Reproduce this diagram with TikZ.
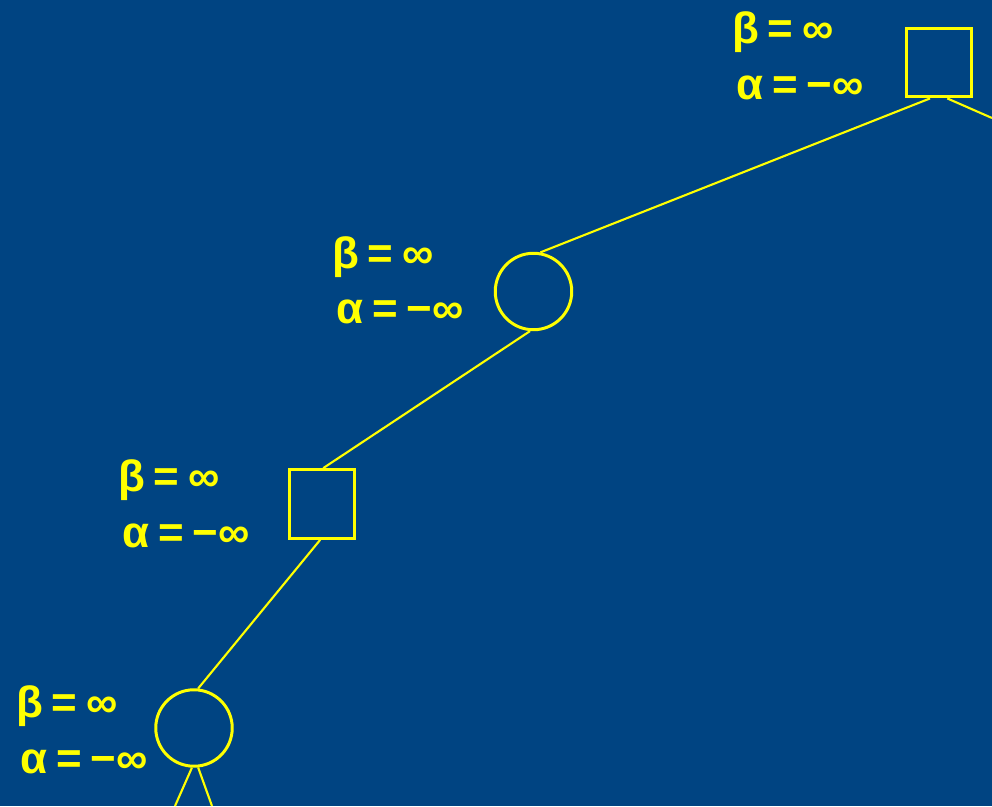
\documentclass[tikz,border=0pt]{standalone}
\usepackage{fontspec}
\setmainfont{Liberation Sans}
\usepackage{xcolor}
\usetikzlibrary{positioning}

\definecolor{boardblue}{RGB}{0,68,130}
\definecolor{boardyellow}{RGB}{255,255,0}

\begin{document}
\begin{tikzpicture}[
                x=0.02cm, y=-0.02cm,
                max node/.style = {rectangle, draw=boardyellow, line width=1.9pt, minimum width=1.31cm, minimum height=1.37cm, inner sep=0pt},
                min node/.style = {circle, draw=boardyellow, line width=1.7pt, minimum size=1.53cm, inner sep=0pt},
                branch/.style = {draw=boardyellow, line width=1.2pt},
                % Stile per i valori alpha/beta
                val label/.style = {anchor=base west, inner sep=0pt, text=boardyellow, font=\bfseries\fontsize{25}{30}\selectfont}
                ]

                % --- Sfondo ---
                \useasboundingbox (0,0) rectangle (992,806);
                \fill[boardblue] (0,0) rectangle (992,806);

                % --- Nodi dell'albero ---
                \node[max node] (s1) at (939,62.5) {};
                \node[min node] (c1) at (533.5,291.5) {};
                \node[max node] (s2) at (322,504) {};
                \node[min node] (c2) at (194,728) {};

                % Estremi liberi dei rami
                \coordinate (r1) at (992,118);
                \coordinate (l2) at (175,806);
                \coordinate (r2) at (212,806);

                % --- Etichette alpha e beta ---
                \foreach \nd/\bx/\by/\ax/\ay in {s1/732/43/736/99, c1/332/268/336/323, s2/118/491/122/547, c2/16/717/20/773} {
                    \node[val label] (beta-\nd) at (\bx,\by) {β\hspace{0.2em}=\hspace{0.2em}∞};
                    \node[val label] (alpha-\nd) at (\ax,\ay) {α\hspace{0.2em}=\hspace{0.2em}−∞};
                }

                % --- Rami ---
                \draw[branch] (s1.-104) -- (c1.80);
                \draw[branch] (s1.-77) -- (r1);
                \draw[branch] (c1.-95) -- (s2.88);
                \draw[branch] (s2.-93) -- (c2.84);
                \draw[branch] (c2.-93) -- (l2);
                \draw[branch] (c2.-84) -- (r2);

            \end{tikzpicture}
\end{document}
